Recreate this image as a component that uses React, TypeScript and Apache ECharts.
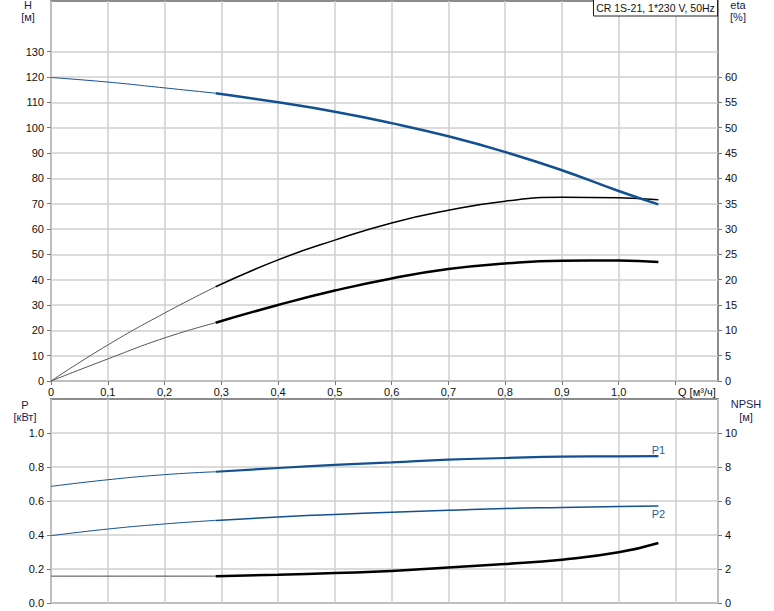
import React, { useEffect, useRef } from "react";
import * as echarts from "echarts";

// Flow (Q, m³/h) sample points
const qThin = [0, 0.1, 0.2, 0.29];
const qThick = [0.29, 0.4, 0.5, 0.6, 0.7, 0.8, 0.9, 1.0, 1.07];

// Head H [m]
const hThin = [119.8, 118.0, 115.7, 113.6];
const hThick = [113.6, 110.0, 106.3, 101.8, 96.6, 90.4, 83.2, 75.0, 69.7];

// Efficiency curves [%]
const etaAThin = [0, 7.1, 13.4, 18.6];
const etaAThick = [18.6, 23.9, 27.8, 31.2, 33.7, 35.5, 36.25, 36.15, 35.75];
const etaBThin = [0, 4.35, 8.5, 11.5];
const etaBThick = [11.5, 15.0, 17.85, 20.25, 22.1, 23.2, 23.75, 23.8, 23.5];

// Power [kW]
const p1Thin = [0.686, 0.725, 0.755, 0.772];
const p1Thick = [0.772, 0.794, 0.812, 0.827, 0.843, 0.853, 0.861, 0.863, 0.864];
const p2Thin = [0.396, 0.435, 0.465, 0.486];
const p2Thick = [0.486, 0.506, 0.521, 0.534, 0.545, 0.556, 0.562, 0.568, 0.57];

// NPSH [m]
const npshThin = [1.58, 1.58, 1.58, 1.58];
const npshThick = [1.58, 1.66, 1.76, 1.88, 2.09, 2.29, 2.55, 2.98, 3.53];

// Tick labels
const qTicks = [0, 0.1, 0.2, 0.3, 0.4, 0.5, 0.6, 0.7, 0.8, 0.9, 1.0, 1.1];
const hTicks = [0, 10, 20, 30, 40, 50, 60, 70, 80, 90, 100, 110, 120, 130];
const etaTicks = [0, 5, 10, 15, 20, 25, 30, 35, 40, 45, 50, 55, 60];
const pTicks = [0, 0.2, 0.4, 0.6, 0.8, 1.0];
const npshTicks = [0, 2, 4, 6, 8, 10];

const title = "CR 1S-21, 1*230 V, 50Hz";

const FONT = "Liberation Sans, Arial, sans-serif";
const BLUE = "#12508f";
const TXT = "#111";

const pairs = (q: number[], v: number[]) => q.map((x, i) => [x, v[i]]);

export default function App() {
  const ref = useRef<HTMLDivElement>(null);
  useEffect(() => {
    if (!ref.current) return;
    const chart = echarts.init(ref.current, undefined, { renderer: "svg" });
    const grid = (top: number, height: number) => ({
      left: 51,
      right: 56,
      top,
      height,
      show: true,
      borderColor: "#8c8c8c",
      borderWidth: 2,
      backgroundColor: "transparent",
    });
    const split = { show: true, lineStyle: { color: "#cfcfcf", width: 1.5 } };
    const tick = (vals: number[]) => ({
      show: true,
      length: 4,
      customValues: vals,
      lineStyle: { color: "#777", width: 1 },
    });
    const lbl = (vals: number[], fmt: (v: number) => string, margin = 7) => ({
      color: TXT,
      fontSize: 11,
      fontFamily: FONT,
      margin,
      customValues: vals,
      formatter: fmt,
    });
    const xFmt = (v: number) => (v > 1.05 ? "" : v === 0 ? "0" : v.toFixed(1).replace(".", ","));
    const line = (
      name: string,
      data: any[],
      x: number,
      y: number,
      color: string,
      width: number,
      z = 3
    ) => ({
      name,
      type: "line",
      xAxisIndex: x,
      yAxisIndex: y,
      data,
      smooth: 0.5,
      showSymbol: true,
      symbol: "circle",
      symbolSize: 0,
      lineStyle: { color, width },
      itemStyle: { color },
      z,
      silent: true,
    });
    const withEndLabel = (q: number[], v: number[], text: string, pos: string, dist: number) =>
      q.map((x, i) =>
        i === q.length - 1
          ? {
              value: [x, v[i]],
              label: {
                show: true,
                position: pos,
                distance: dist,
                formatter: text,
                color: "#2a5d9a",
                fontSize: 11,
                fontFamily: FONT,
              },
            }
          : [x, v[i]]
      );

    const option: any = {
      animation: false,
      grid: [grid(1, 380), grid(399, 204)],
      xAxis: [
        {
          type: "value",
          gridIndex: 0,
          min: 0,
          max: 1.175,
          interval: 0.1,
          axisLine: { show: false },
          axisTick: tick(qTicks),
          axisLabel: lbl(qTicks, xFmt, 5),
          splitLine: split,
        },
        {
          type: "value",
          gridIndex: 1,
          min: 0,
          max: 1.175,
          interval: 0.1,
          axisLine: { show: false },
          axisTick: { show: false },
          axisLabel: { show: false },
          splitLine: split,
        },
      ],
      yAxis: [
        {
          type: "value",
          gridIndex: 0,
          position: "left",
          min: 0,
          max: 150,
          interval: 10,
          axisLine: { show: false },
          axisTick: tick(hTicks),
          axisLabel: lbl(hTicks, (v: number) => String(v)),
          splitLine: split,
        },
        {
          type: "value",
          gridIndex: 0,
          position: "right",
          min: 0,
          max: 75,
          interval: 5,
          axisLine: { show: false },
          axisTick: tick(etaTicks),
          axisLabel: lbl(etaTicks, (v: number) => String(v)),
          splitLine: { show: false },
        },
        {
          type: "value",
          gridIndex: 1,
          position: "left",
          min: 0,
          max: 1.2,
          interval: 0.2,
          axisLine: { show: false },
          axisTick: tick(pTicks),
          axisLabel: lbl(pTicks, (v: number) => v.toFixed(1)),
          splitLine: split,
        },
        {
          type: "value",
          gridIndex: 1,
          position: "right",
          min: 0,
          max: 12,
          interval: 2,
          axisLine: { show: false },
          axisTick: tick(npshTicks),
          axisLabel: lbl(npshTicks, (v: number) => String(v)),
          splitLine: { show: false },
        },
      ],
      series: [
        line("H thin", pairs(qThin, hThin), 0, 0, BLUE, 1),
        line("H", pairs(qThick, hThick), 0, 0, BLUE, 2.5, 4),
        line("eta thin", pairs(qThin, etaAThin), 0, 1, "#555", 1),
        line("eta", pairs(qThick, etaAThick), 0, 1, "#000", 1.5),
        line("eta2 thin", pairs(qThin, etaBThin), 0, 1, "#555", 1),
        line("eta2", pairs(qThick, etaBThick), 0, 1, "#000", 2.5),
        line("P1 thin", pairs(qThin, p1Thin), 1, 2, BLUE, 1),
        line("P1", withEndLabel(qThick, p1Thick, "P1", "top", 1), 1, 2, BLUE, 2.2),
        line("P2 thin", pairs(qThin, p2Thin), 1, 2, BLUE, 1),
        line("P2", withEndLabel(qThick, p2Thick, "P2", "bottom", 2), 1, 2, BLUE, 1.5),
        line("NPSH thin", pairs(qThin, npshThin), 1, 3, "#444", 1),
        line("NPSH", pairs(qThick, npshThick), 1, 3, "#000", 2.5),
      ],
      graphic: [
        {
          type: "rect",
          shape: { x: 593.5, y: -0.5, width: 124, height: 16.5 },
          style: { fill: "#fff", stroke: "#222", lineWidth: 1 },
          z: 10,
        },
        {
          type: "text",
          x: 655.5,
          y: 8,
          style: {
            text: title,
            font: `10.5px ${FONT}`,
            fill: TXT,
            textAlign: "center",
            textVerticalAlign: "middle",
          },
          z: 11,
        },
        ...[
          ["H", 28, 5],
          ["[м]", 28, 17],
          ["eta", 738, 5],
          ["[%]", 738, 17],
          ["P", 25, 405],
          ["[кВт]", 25, 417],
          ["NPSH", 746, 404],
          ["[м]", 746, 417],
        ].map(([t, x, y]) => ({
          type: "text",
          x,
          y,
          style: {
            text: t,
            font: `11px ${FONT}`,
            fill: "#1c1c50",
            textAlign: "center",
            textVerticalAlign: "middle",
          },
        })),
        {
          type: "text",
          x: 678,
          y: 392,
          style: {
            text: "Q [м³/ч]",
            font: `11px ${FONT}`,
            fill: TXT,
            textAlign: "left",
            textVerticalAlign: "middle",
          },
        },
      ],
    };
    chart.setOption(option);
    return () => chart.dispose();
  }, []);
  return (
    <div
      ref={ref}
      style={{ position: "fixed", left: 0, top: 0, width: 774, height: 611, background: "#fff" }}
    />
  );
}
